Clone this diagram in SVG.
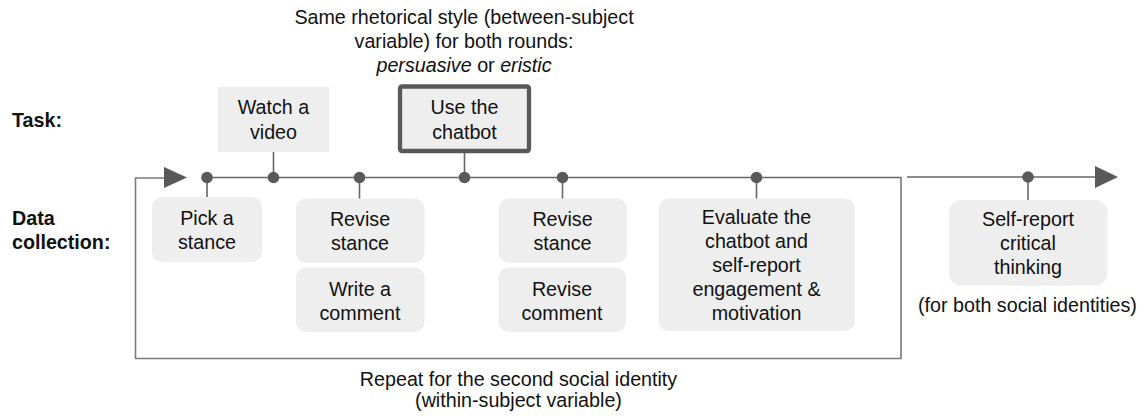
<svg xmlns="http://www.w3.org/2000/svg" width="1143" height="417" viewBox="0 0 1143 417">
  <style>
    text { font-family: "Liberation Sans", Arial, sans-serif; font-size: 19.7px; fill: #111; }
    .c { text-anchor: middle; }
    .b { font-weight: bold; }
    .i { font-style: italic; }
    .box { fill: #eeeeee; stroke: none; }
    .line { stroke: #666; stroke-width: 1.6; fill: none; }
    .loop { stroke: #7a7a7a; stroke-width: 1.6; fill: none; }
    .dot { fill: #595959; }
    .head { fill: #595959; }
  </style>
  <rect width="1143" height="417" fill="#fff"/>

  <g id="labels">
    <text x="12" y="127" class="b">Task:</text>
    <text x="12" y="225" class="b">Data</text>
    <text x="12" y="249" class="b">collection:</text>
    <text x="464" y="24" class="c">Same rhetorical style (between-subject</text>
    <text x="464" y="48" class="c">variable) for both rounds:</text>
    <text x="464" y="72" class="c"><tspan class="i">persuasive</tspan> or <tspan class="i">eristic</tspan></text>
    <text x="518.5" y="386" class="c">Repeat for the second social identity</text>
    <text x="518.5" y="407" class="c">(within-subject variable)</text>
    <text x="1027.5" y="312" class="c">(for both social identities)</text>
  </g>

  <g id="connectors">
    <path class="loop" d="M901 177 V358.5 H135.5 V178 H164"/>
    <polygon class="head" points="164,167 187,177.5 164,188"/>
    <line class="line" x1="207" y1="177.5" x2="901" y2="177.5"/>
    <line class="line" x1="907" y1="177" x2="1095" y2="177"/>
    <polygon class="head" points="1095,166 1118,177 1095,188"/>
    <line class="line" x1="207" y1="177" x2="207" y2="198"/>
    <line class="line" x1="273.5" y1="152" x2="273.5" y2="177"/>
    <line class="line" x1="359.5" y1="177" x2="359.5" y2="199"/>
    <line class="line" x1="464.5" y1="153" x2="464.5" y2="177"/>
    <line class="line" x1="562.5" y1="177" x2="562.5" y2="199"/>
    <line class="line" x1="756.5" y1="177" x2="756.5" y2="199"/>
    <line class="line" x1="1028" y1="177" x2="1028" y2="201"/>
    <circle class="dot" cx="207" cy="177.5" r="5.8"/>
    <circle class="dot" cx="273.5" cy="177.5" r="5.8"/>
    <circle class="dot" cx="359.5" cy="177.5" r="5.8"/>
    <circle class="dot" cx="464.5" cy="177.5" r="5.8"/>
    <circle class="dot" cx="562.5" cy="177.5" r="5.8"/>
    <circle class="dot" cx="756.5" cy="177.5" r="5.8"/>
    <circle class="dot" cx="1028" cy="177" r="5.8"/>
  </g>

  <g id="watch-video">
    <rect class="box" x="218" y="87" width="111" height="65"/>
    <text x="273.5" y="114" class="c">Watch a</text>
    <text x="273.5" y="139" class="c">video</text>
  </g>

  <g id="use-chatbot">
    <rect x="400" y="86.5" width="129" height="64.5" rx="2" fill="#eeeeee" stroke="#595959" stroke-width="4.3"/>
    <text x="464.5" y="114" class="c">Use the</text>
    <text x="464.5" y="139" class="c">chatbot</text>
  </g>

  <g id="pick-stance">
    <rect class="box" x="152" y="197" width="110" height="65" rx="10"/>
    <text x="207" y="225" class="c">Pick a</text>
    <text x="207" y="249" class="c">stance</text>
  </g>

  <g id="revise-stance-1">
    <rect class="box" x="296" y="198.5" width="128.5" height="64.5" rx="10"/>
    <text x="360" y="226" class="c">Revise</text>
    <text x="360" y="250" class="c">stance</text>
  </g>

  <g id="write-comment">
    <rect class="box" x="296" y="267.5" width="128.5" height="64.5" rx="10"/>
    <text x="360" y="296" class="c">Write a</text>
    <text x="360" y="319.5" class="c">comment</text>
  </g>

  <g id="revise-stance-2">
    <rect class="box" x="498.5" y="198.5" width="128.5" height="64.5" rx="10"/>
    <text x="562.5" y="226" class="c">Revise</text>
    <text x="562.5" y="250" class="c">stance</text>
  </g>

  <g id="revise-comment">
    <rect class="box" x="498.5" y="267.5" width="127.5" height="64.5" rx="10"/>
    <text x="562" y="296" class="c">Revise</text>
    <text x="562" y="319.5" class="c">comment</text>
  </g>

  <g id="evaluate">
    <rect class="box" x="658.5" y="198.5" width="196.5" height="132.5" rx="10"/>
    <text x="756.5" y="224.3" class="c">Evaluate the</text>
    <text x="756.5" y="248" class="c">chatbot and</text>
    <text x="756.5" y="271.8" class="c">self-report</text>
    <text x="756.5" y="295.6" class="c">engagement &amp;</text>
    <text x="756.5" y="319.5" class="c">motivation</text>
  </g>

  <g id="self-report">
    <rect class="box" x="949" y="200" width="158.5" height="85.5" rx="12"/>
    <text x="1028" y="226" class="c">Self-report</text>
    <text x="1028" y="250" class="c">critical</text>
    <text x="1028" y="273.5" class="c">thinking</text>
  </g>
</svg>
